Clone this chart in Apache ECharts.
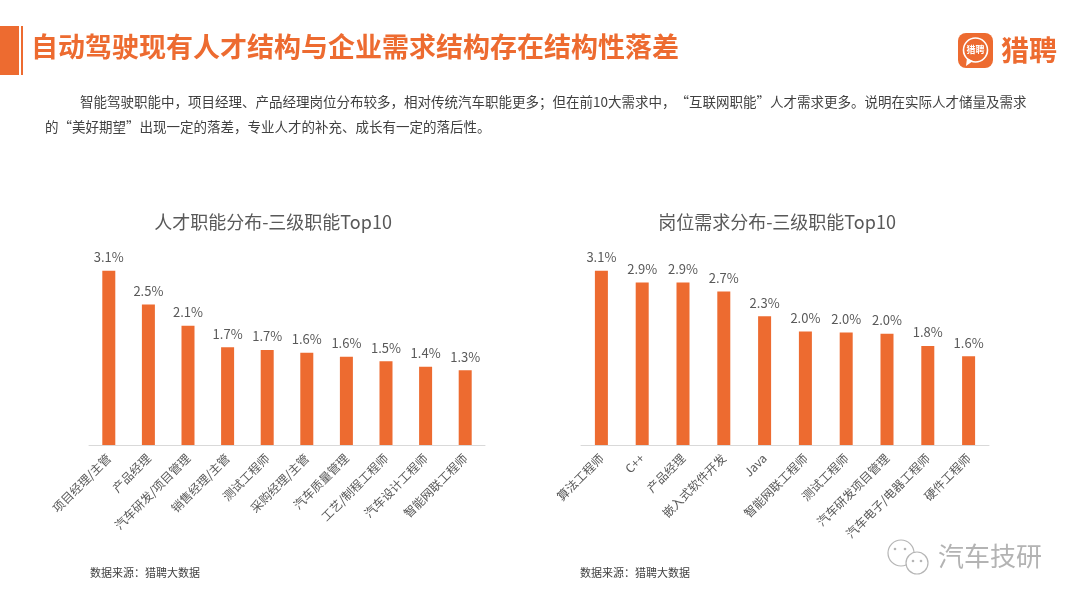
<!DOCTYPE html>
<html lang="zh">
<head>
<meta charset="UTF-8">
<title>自动驾驶人才结构</title>
<script src="https://cdn.jsdelivr.net/npm/echarts@6/dist/echarts.min.js"></script>
<style>
  html, body { margin: 0; padding: 0; background: #fff; }
  #chart { width: 1080px; height: 608px; }
</style>
</head>
<body>
<div id="chart"></div>
<script>
// 人才职能分布（左图）
var talentNames = ["项目经理/主管", "产品经理", "汽车研发/项目管理", "销售经理/主管", "测试工程师",
                   "采购经理/主管", "汽车质量管理", "工艺/制程工程师", "汽车设计工程师", "智能网联工程师"];
var talentValues = [3.1, 2.5, 2.12, 1.74, 1.69, 1.64, 1.57, 1.49, 1.39, 1.33];

// 岗位需求分布（右图）
var demandNames = ["算法工程师", "C++", "产品经理", "嵌入式软件开发", "Java",
                   "智能网联工程师", "测试工程师", "汽车研发项目管理", "汽车电子/电器工程师", "硬件工程师"];
var demandValues = [3.1, 2.89, 2.89, 2.73, 2.29, 2.02, 2.0, 1.98, 1.76, 1.58];

var chartTitles = ["人才职能分布-三级职能Top10", "岗位需求分布-三级职能Top10"];
var pageTitle = "自动驾驶现有人才结构与企业需求结构存在结构性落差";
var noteLines = [
  "智能驾驶职能中，项目经理、产品经理岗位分布较多，相对传统汽车职能更多；但在前10大需求中，“互联网职能”人才需求更多。说明在实际人才储量及需求",
  "的“美好期望”出现一定的落差，专业人才的补充、成长有一定的落后性。"
];
var sourceText = "数据来源：猎聘大数据";

var orange = "#ED6B30";
var grayText = "#595959";
var font = "Noto Sans CJK SC";

function pct(p) { return p.value.toFixed(1) + "%"; }

function xAxisFor(idx, names) {
  return {
    type: "category", gridIndex: idx, data: names,
    axisTick: { show: false },
    axisLine: { lineStyle: { color: "#d9d9d9", width: 1 } },
    axisLabel: { interval: 0, rotate: 45, margin: 11, color: grayText, fontSize: 12, fontFamily: font }
  };
}

function seriesFor(idx, values) {
  return {
    type: "bar", xAxisIndex: idx, yAxisIndex: idx, data: values,
    barWidth: 13,
    itemStyle: { color: orange },
    label: { show: true, position: "top", distance: 7, formatter: pct,
             color: grayText, fontSize: 13, fontFamily: font }
  };
}

var myChart = echarts.init(document.getElementById("chart"));
var option = {
  backgroundColor: "#fff",
  animation: false,
  textStyle: { fontFamily: font },
  title: [
    { text: chartTitles[0], left: 268, top: 208, textAlign: "center",
      textStyle: { fontSize: 18, fontWeight: "normal", color: grayText, fontFamily: font } },
    { text: chartTitles[1], left: 772, top: 208, textAlign: "center",
      textStyle: { fontSize: 18, fontWeight: "normal", color: grayText, fontFamily: font } }
  ],
  grid: [
    { left: 89, right: 595, top: 220, bottom: 163 },
    { left: 581, right: 91, top: 220, bottom: 163 }
  ],
  xAxis: [xAxisFor(0, talentNames), xAxisFor(1, demandNames)],
  yAxis: [
    { type: "value", gridIndex: 0, min: 0, max: 4, show: false },
    { type: "value", gridIndex: 1, min: 0, max: 4, show: false }
  ],
  series: [seriesFor(0, talentValues), seriesFor(1, demandValues)],
  graphic: [
    // 页眉色块
    { type: "rect", shape: { x: 0, y: 26, width: 19, height: 49 }, style: { fill: orange } },
    { type: "rect", shape: { x: 21, y: 26, width: 2, height: 49 }, style: { fill: orange } },
    { type: "text", left: 31, top: 33,
      style: { text: pageTitle, fill: orange, font: "bold 27px '" + font + "'" } },
    // 猎聘 logo
    { type: "rect", shape: { x: 958, y: 33, width: 35, height: 35, r: 8 }, style: { fill: orange } },
    { type: "circle", shape: { cx: 975.5, cy: 50, r: 12 }, style: { fill: orange, stroke: "#fff", lineWidth: 1.6 } },
    { type: "polygon", shape: { points: [[967, 58], [966, 66], [973, 61]] }, style: { fill: "#fff" } },
    { type: "text", x: 975.5, y: 50,
      style: { text: "猎聘", fill: "#fff", font: "bold 9px '" + font + "'", align: "center", verticalAlign: "middle" } },
    { type: "text", x: 1001, y: 50,
      style: { text: "猎聘", fill: orange, font: "bold 28px '" + font + "'", verticalAlign: "middle" } },
    // 说明文字
    { type: "text", x: 80, y: 102,
      style: { text: noteLines[0], fill: "#404040", font: "13.5px '" + font + "'", verticalAlign: "middle" } },
    { type: "text", x: 45, y: 127,
      style: { text: noteLines[1], fill: "#404040", font: "13.5px '" + font + "'", verticalAlign: "middle" } },
    // 数据来源
    { type: "text", x: 90, y: 573,
      style: { text: sourceText, fill: "#404040", font: "11px '" + font + "'", verticalAlign: "middle" } },
    { type: "text", x: 580, y: 573,
      style: { text: sourceText, fill: "#404040", font: "11px '" + font + "'", verticalAlign: "middle" } },
    // 水印
    { type: "circle", shape: { cx: 901, cy: 553, r: 13 }, style: { fill: "#fff", stroke: "#b5b5b5", lineWidth: 1.2 } },
    { type: "circle", shape: { cx: 895, cy: 549, r: 1.3 }, style: { fill: "#b5b5b5" } },
    { type: "circle", shape: { cx: 905, cy: 549, r: 1.3 }, style: { fill: "#b5b5b5" } },
    { type: "circle", shape: { cx: 917, cy: 563, r: 11 }, style: { fill: "#fff", stroke: "#b5b5b5", lineWidth: 1.2 } },
    { type: "circle", shape: { cx: 913, cy: 561, r: 1.3 }, style: { fill: "#b5b5b5" } },
    { type: "circle", shape: { cx: 921, cy: 561, r: 1.3 }, style: { fill: "#b5b5b5" } },
    { type: "text", x: 938, y: 556,
      style: { text: "汽车技研", fill: "#b3b3b3", font: "26px '" + font + "'", verticalAlign: "middle" } }
  ]
};
myChart.setOption(option);
</script>
</body>
</html>
